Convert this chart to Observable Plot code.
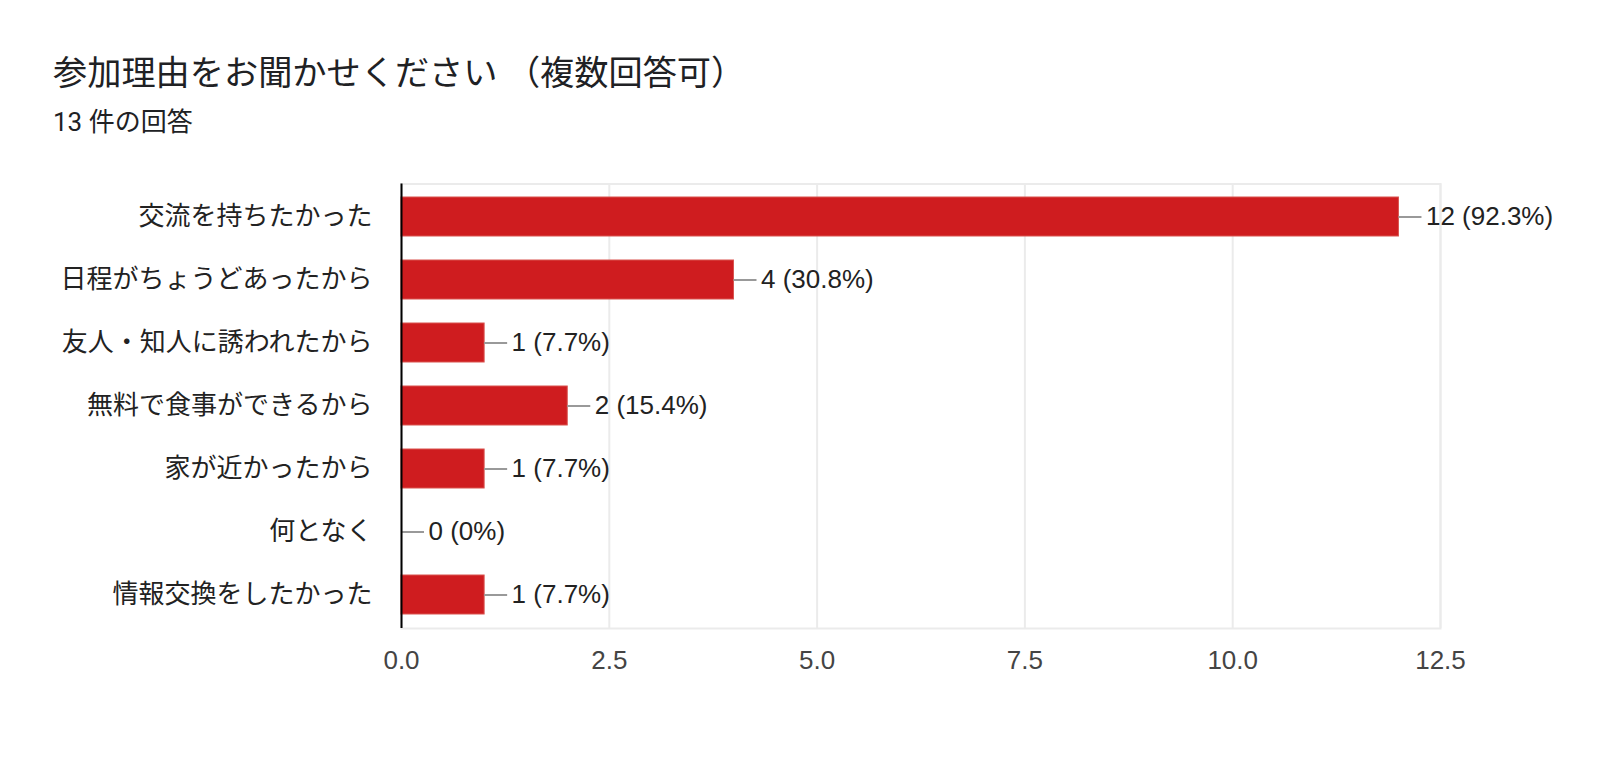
<!DOCTYPE html>
<html><head><meta charset="utf-8">
<script src="https://cdn.jsdelivr.net/npm/d3@7"></script>
<script src="https://cdn.jsdelivr.net/npm/@observablehq/plot@0.6"></script>
<style>
body{margin:0;background:#fff;width:1600px;height:761px;overflow:hidden;font-family:"Liberation Sans","Noto Sans CJK JP",sans-serif;}
#head{position:relative;height:150px;}
#title{position:absolute;left:53px;top:56px;font-size:34.2px;line-height:1;color:#202124;font-family:"Roboto","Noto Sans CJK JP",sans-serif;white-space:nowrap;}
#sub{position:absolute;left:53px;top:109px;font-size:26px;line-height:1;color:#202124;font-family:"Roboto","Noto Sans CJK JP",sans-serif;white-space:nowrap;}
svg{display:block;}
</style></head>
<body>
<div id="head"><div id="title">参加理由をお聞かせください （複数回答可）</div><div id="sub">13 件の回答</div></div>
<div id="chart"></div>
<script>
const categories = ["交流を持ちたかった","日程がちょうどあったから","友人・知人に誘われたから","無料で食事ができるから","家が近かったから","何となく","情報交換をしたかった"];
const counts = [12,4,1,2,1,0,1];
const percents = ["92.3%","30.8%","7.7%","15.4%","7.7%","0%","7.7%"];
const xTicks = [0,2.5,5,7.5,10,12.5];
const leaderLen = 0.277; // leader line length in value units

const data = categories.map((c,i)=>({cat:c, value:counts[i], pct:percents[i]}));
const font = '"Liberation Sans","Noto Sans CJK JP",sans-serif';

const chart = Plot.plot({
  width:1600, height:611,
  marginLeft:401, marginRight:160, marginTop:33.5, marginBottom:133,
  style:{fontFamily:font, background:"#fff"},
  x:{domain:[0,12.5]},
  y:{domain:categories, paddingInner:0.384, paddingOuter:0.2},
  marks:[
    Plot.gridX(xTicks,{stroke:"#ebebeb", strokeOpacity:1, strokeWidth:2}),
    Plot.frame({stroke:"#ebebeb", strokeWidth:2}),
    Plot.barX(data,{x:"value", y:"cat", fill:"#cf1c1f", stroke:"#d9534f", strokeWidth:1}),
    Plot.ruleY(data,{y:"cat", x1:"value", x2:d=>d.value+leaderLen, stroke:"#999", strokeWidth:2}),
    Plot.text(data,{x:"value", y:"cat", text:d=>`${d.value} (${d.pct})`, textAnchor:"start", dx:27, fill:"#222", fontSize:26, fontFamily:font}),
    Plot.ruleX([0],{stroke:"#000", strokeWidth:2}),
    Plot.axisX({ticks:xTicks, tickFormat:d3.format(".1f"), tickSize:0, tickPadding:22, fontSize:26, fill:"#444", label:null}),
    Plot.axisY({tickSize:0, tickPadding:29, fontSize:26, fill:"#222", label:null, fontFamily:'"Noto Sans CJK JP",sans-serif'})
  ]
});
document.getElementById("chart").appendChild(chart);
</script>
</body></html>
